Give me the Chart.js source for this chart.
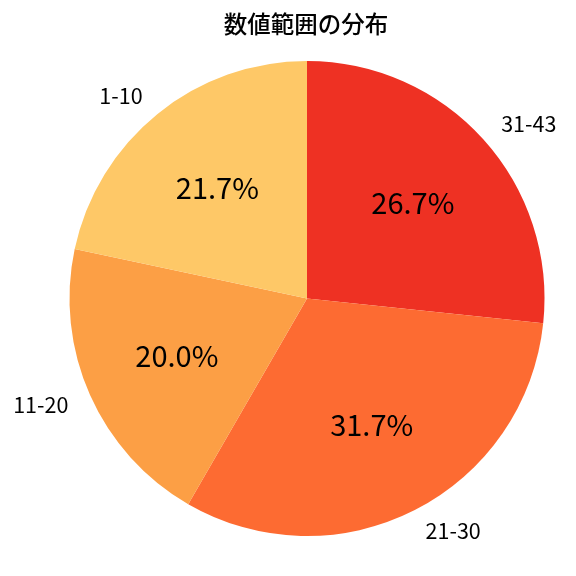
<!DOCTYPE html>
<html>
<head>
<meta charset="utf-8">
<script src="https://cdn.jsdelivr.net/npm/chart.js@4.4.0/dist/chart.umd.min.js"></script>
<style>
html,body{margin:0;padding:0;background:#fff;}
#wrap{width:576px;height:576px;position:relative;}
</style>
</head>
<body>
<div id="wrap"><canvas id="c" width="576" height="576"></canvas></div>
<script>
const titleText = "数値範囲の分布";
const categories = ["1-10", "11-20", "21-30", "31-43"];
const counts = [13, 12, 19, 16];
const colors = ["#FEC867", "#FC9F45", "#FD6B32", "#EE3123"];

// matplotlib draws counter-clockwise from the top; Chart.js draws clockwise, so reverse
const labelsR = categories.slice().reverse();
const countsR = counts.slice().reverse();
const colorsR = colors.slice().reverse();
const total = counts.reduce((a, b) => a + b, 0);

const FONT = '"Noto Sans CJK JP", "Noto Sans", sans-serif';

const labelPlugin = {
  id: 'pieLabels',
  afterDraw(chart) {
    const ctx = chart.ctx;
    const meta = chart.getDatasetMeta(0);
    ctx.save();
    ctx.fillStyle = '#000';
    ctx.textBaseline = 'middle';
    meta.data.forEach((arc, i) => {
      const mid = (arc.startAngle + arc.endAngle) / 2;
      const r = arc.outerRadius;
      const c = Math.cos(mid), s = Math.sin(mid);
      // outer category label
      ctx.font = '21.5px ' + FONT;
      ctx.textAlign = c >= 0 ? 'left' : 'right';
      ctx.fillText(labelsR[i], arc.x + c * r * 1.1, arc.y + s * r * 1.1);
      // percentage
      ctx.font = '29px ' + FONT;
      ctx.textAlign = 'center';
      const pct = (countsR[i] / total * 100).toFixed(1) + '%';
      ctx.fillText(pct, arc.x + c * r * 0.6, arc.y + s * r * 0.6);
    });
    // title
    ctx.font = '500 23.5px ' + FONT;
    ctx.textAlign = 'center';
    ctx.fillText(titleText, 306, 24);
    ctx.restore();
  }
};

new Chart(document.getElementById('c'), {
  type: 'pie',
  data: {
    labels: labelsR,
    datasets: [{
      data: countsR,
      backgroundColor: colorsR,
      borderWidth: 0
    }]
  },
  options: {
    responsive: false,
    animation: false,
    layout: { padding: { left: 69, right: 31, top: 61, bottom: 40 } },
    plugins: {
      legend: { display: false },
      title: { display: false },
      tooltip: { enabled: false }
    }
  },
  plugins: [labelPlugin]
});
</script>
</body>
</html>
